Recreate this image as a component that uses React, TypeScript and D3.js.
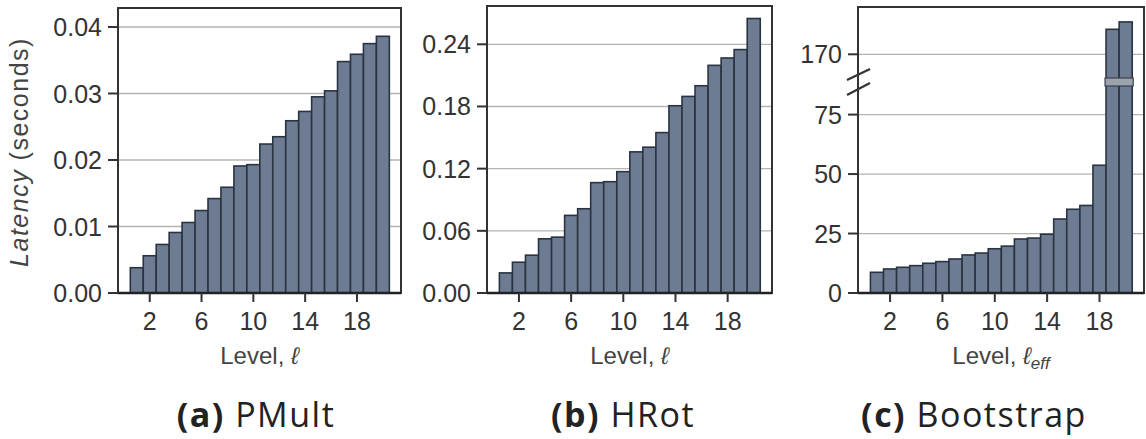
import { useRef, useEffect } from "react";
import * as d3 from "d3";

// levels on the x axis
const levels = [1, 2, 3, 4, 5, 6, 7, 8, 9, 10, 11, 12, 13, 14, 15, 16, 17, 18, 19, 20];
const levelTicks = [2, 6, 10, 14, 18];

// latency in seconds
const pmultLatency = [
  0.0038, 0.0056, 0.0073, 0.0091, 0.0106, 0.0124, 0.0142, 0.0159, 0.0191, 0.0193,
  0.0224, 0.0235, 0.0259, 0.0273, 0.0295, 0.0304, 0.0348, 0.0359, 0.0375, 0.0386,
];
const hrotLatency = [
  0.0194, 0.0297, 0.0365, 0.0523, 0.0539, 0.0749, 0.0813, 0.1065, 0.1074, 0.1171,
  0.1362, 0.1407, 0.1548, 0.1807, 0.1897, 0.2, 0.2197, 0.2268, 0.2349, 0.2649,
];
const bootstrapLatency = [
  8.7, 10.1, 10.8, 11.5, 12.5, 13.2, 14.3, 16.0, 16.8, 18.6,
  19.7, 22.7, 23.1, 24.7, 31.1, 35.2, 36.8, 53.7, 180.5, 183.6,
];

const pmultTicks = [0, 0.01, 0.02, 0.03, 0.04];
const pmultTickLabels = ["0.00", "0.01", "0.02", "0.03", "0.04"];
const hrotTicks = [0, 0.06, 0.12, 0.18, 0.24];
const hrotTickLabels = ["0.00", "0.06", "0.12", "0.18", "0.24"];
const bootstrapTicks = [0, 25, 50, 75, 170];
const bootstrapTickLabels = ["0", "25", "50", "75", "170"];

const captionTags = ["(a)", "(b)", "(c)"];
const captionNames = ["PMult", "HRot", "Bootstrap"];

export default function App() {
  const ref = useRef<SVGSVGElement>(null);

  function init() {
    const svg = d3.select(ref.current);
    svg.selectAll("*").remove();

    const bottom = 293;
    const xDomain = [-0.45, 21.4];

    const panels = [
      {
        frame: { left: 118, right: 401, top: 8 },
        values: pmultLatency,
        ticks: pmultTicks,
        tickLabels: pmultTickLabels,
        y: d3.scaleLinear().domain([0, 0.04]).range([bottom, 27]),
        sub: "",
        captionX: 256,
        broken: false,
      },
      {
        frame: { left: 487, right: 772, top: 6 },
        values: hrotLatency,
        ticks: hrotTicks,
        tickLabels: hrotTickLabels,
        y: d3.scaleLinear().domain([0, 0.24]).range([bottom, 44.3]),
        sub: "",
        captionX: 623,
        broken: false,
      },
      {
        frame: { left: 858, right: 1144, top: 7 },
        values: bootstrapLatency,
        ticks: bootstrapTicks,
        tickLabels: bootstrapTickLabels,
        // broken axis: 88.7 .. 158.4 collapsed onto one pixel row
        y: d3
          .scaleLinear()
          .domain([0, 88.7, 158.4, 170, 200])
          .range([bottom, 82, 82, 54.3, -17.1]),
        sub: "eff",
        captionX: 974,
        broken: true,
      },
    ];

    panels.forEach((p, pi) => {
      const g = svg.append("g");
      const { left, right, top } = p.frame;
      const x = d3.scaleLinear().domain(xDomain).range([left, right]);
      const y = p.y;
      const bw = x(1) - x(0);

      // grid
      g.selectAll(".grid")
        .data(p.ticks.filter((t) => t > 0))
        .join("line")
        .attr("x1", left)
        .attr("x2", right)
        .attr("y1", (d) => y(d))
        .attr("y2", (d) => y(d))
        .attr("stroke", "#b4b4b4")
        .attr("stroke-width", 1.3);

      // bars
      g.selectAll(".bar")
        .data(levels)
        .join("rect")
        .attr("x", (d) => x(d) - bw / 2)
        .attr("width", bw)
        .attr("y", (d, i) => y(p.values[i]))
        .attr("height", (d, i) => bottom - y(p.values[i]))
        .attr("fill", "#6d7b93")
        .attr("stroke", "#2a3342")
        .attr("stroke-width", 1.6);

      if (p.broken) {
        const by = y(88.7);
        g.append("rect")
          .attr("x", x(19) - bw / 2 - 1)
          .attr("width", x(20) - x(19) + bw + 2)
          .attr("y", by - 4)
          .attr("height", 8)
          .attr("fill", "#9da3ab")
          .attr("stroke", "#3a4250")
          .attr("stroke-width", 1.2);
      }

      // frame
      g.append("rect")
        .attr("x", left)
        .attr("y", top)
        .attr("width", right - left)
        .attr("height", bottom - top)
        .attr("fill", "none")
        .attr("stroke", "#333")
        .attr("stroke-width", 2);
      g.append("line")
        .attr("x1", left)
        .attr("x2", right)
        .attr("y1", bottom)
        .attr("y2", bottom)
        .attr("stroke", "#222")
        .attr("stroke-width", 2.6);

      // y ticks
      g.selectAll(".yt")
        .data(p.ticks)
        .join("line")
        .attr("x1", left - 10)
        .attr("x2", left)
        .attr("y1", (d) => y(d))
        .attr("y2", (d) => y(d))
        .attr("stroke", "#333")
        .attr("stroke-width", 2);
      g.selectAll(".yl")
        .data(p.ticks)
        .join("text")
        .attr("x", left - 16)
        .attr("y", (d) => y(d) + 9)
        .attr("text-anchor", "end")
        .attr("font-family", "Liberation Sans, Arial, sans-serif")
        .attr("font-size", 25)
        .attr("fill", "#333")
        .text((d, i) => p.tickLabels[i]);

      // x ticks
      g.selectAll(".xt")
        .data(levelTicks)
        .join("line")
        .attr("x1", (d) => x(d))
        .attr("x2", (d) => x(d))
        .attr("y1", bottom)
        .attr("y2", bottom + 9)
        .attr("stroke", "#333")
        .attr("stroke-width", 2);
      g.selectAll(".xl")
        .data(levelTicks)
        .join("text")
        .attr("x", (d) => x(d))
        .attr("y", bottom + 37)
        .attr("text-anchor", "middle")
        .attr("font-family", "Liberation Sans, Arial, sans-serif")
        .attr("font-size", 25)
        .attr("fill", "#333")
        .text((d) => d);

      if (p.broken) {
        const by = y(88.7);
        [
          [by - 2, by - 13],
          [by + 13, by + 1],
        ].forEach(([y1, y2]) =>
          g.append("line")
            .attr("x1", left - 11)
            .attr("x2", left + 12)
            .attr("y1", y1)
            .attr("y2", y2)
            .attr("stroke", "#333")
            .attr("stroke-width", 2.2)
        );
      }

      // x label
      const xl = g.append("text")
        .attr("x", (left + right) / 2)
        .attr("y", 364)
        .attr("text-anchor", "middle")
        .attr("font-family", "Liberation Sans, Arial, sans-serif")
        .attr("font-size", 24)
        .attr("fill", "#444");
      xl.append("tspan").text("Level, ");
      xl.append("tspan").attr("font-style", "italic").text("ℓ");
      if (p.sub) {
        xl.append("tspan")
          .attr("font-style", "italic")
          .attr("font-size", 17)
          .attr("dy", 5)
          .text(p.sub);
      }

      // caption
      const cap = g.append("text")
        .attr("x", p.captionX)
        .attr("y", 427)
        .attr("text-anchor", "middle")
        .attr("font-family", "Open Sans, Noto Sans, sans-serif")
        .attr("font-size", 34)
        .attr("letter-spacing", 1.5)
        .attr("fill", "#222");
      cap.append("tspan").attr("font-weight", "bold").text(captionTags[pi]);
      cap.append("tspan").text(" " + captionNames[pi]);
    });

    // y label
    const yl = svg.append("text")
      .attr("transform", "translate(28,152) rotate(-90)")
      .attr("text-anchor", "middle")
      .attr("font-family", "Liberation Sans, Arial, sans-serif")
      .attr("font-size", 25)
      .attr("letter-spacing", 1.5)
      .attr("fill", "#444");
    yl.append("tspan").attr("font-style", "italic").text("Latency");
    yl.append("tspan").text(" (seconds)");
  }

  useEffect(init, []);
  return (
    <svg
      ref={ref}
      width={1146}
      height={439}
      style={{ position: "absolute", left: 0, top: 0, background: "#fff" }}
    ></svg>
  );
}
